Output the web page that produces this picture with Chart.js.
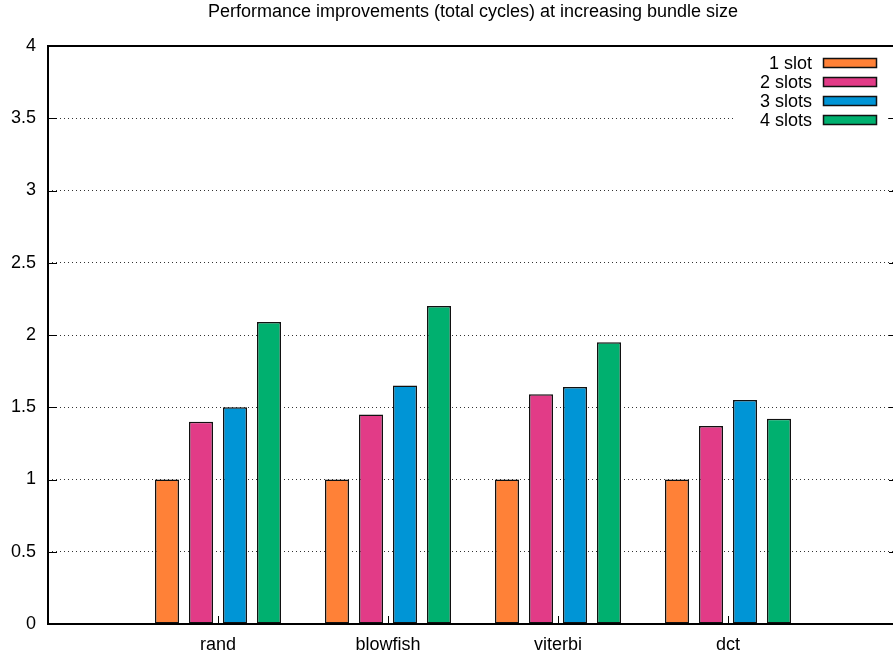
<!DOCTYPE html>
<html>
<head>
<meta charset="utf-8">
<script src="https://cdn.jsdelivr.net/npm/chart.js@4.4.1/dist/chart.umd.min.js"></script>
<style>
  html, body { margin: 0; padding: 0; background: #fff; overflow: hidden; }
  #wrap { width: 898px; height: 657px; }
</style>
</head>
<body>
<div id="wrap"><canvas id="c" width="898" height="657"></canvas></div>
<script>
// Benchmarks and speed-up (total cycles, relative to 1 slot) per bundle size
const benchmarks = ['rand', 'blowfish', 'viterbi', 'dct'];
const seriesNames = ['1 slot', '2 slots', '3 slots', '4 slots'];
const slot1 = [1.00, 1.00, 1.00, 1.00];
const slot2 = [1.40, 1.45, 1.59, 1.37];
const slot3 = [1.50, 1.65, 1.64, 1.55];
const slot4 = [2.09, 2.20, 1.95, 1.42];
const yTicks = [0, 0.5, 1, 1.5, 2, 2.5, 3, 3.5, 4];

const colors = ['#ff8137', '#e23b87', '#0095d6', '#00b06f'];
const FONT = "'Liberation Sans', Arial, sans-serif";

// one empty slot on each side so the x range runs from -1 to 4
const labels = ['', ...benchmarks, ''];
const pad = arr => [null, ...arr, null];

const datasets = [slot1, slot2, slot3, slot4].map((vals, i) => ({
  label: seriesNames[i],
  data: pad(vals),
  backgroundColor: colors[i],
  borderColor: '#111',
  borderWidth: 1.5,
  borderSkipped: false,
  categoryPercentage: 0.8,
  barPercentage: 0.706
}));

// border box, inward tick marks and the key inside the plot area
const framePlugin = {
  id: 'frame',
  afterDraw(chart) {
    const { ctx, chartArea: a, scales } = chart;
    ctx.save();

    // key with an opaque background
    ctx.fillStyle = '#fff';
    ctx.fillRect(735, 52, 152, 78);
    ctx.font = '18px ' + FONT;
    ctx.textAlign = 'right';
    ctx.textBaseline = 'middle';
    chart.data.datasets.forEach((ds, i) => {
      const cy = 63 + i * 19;
      ctx.fillStyle = '#000';
      ctx.fillText(ds.label, 812, cy + 1);
      ctx.fillStyle = ds.backgroundColor;
      ctx.fillRect(823.5, cy - 4.5, 53, 9);
      ctx.strokeStyle = '#111';
      ctx.lineWidth = 1.5;
      ctx.strokeRect(823.5, cy - 4.5, 53, 9);
    });

    ctx.strokeStyle = '#000';
    ctx.lineWidth = 1;
    ctx.beginPath();
    scales.y.ticks.forEach(t => {
      const y = Math.round(scales.y.getPixelForValue(t.value)) + 0.5;
      ctx.moveTo(a.left, y); ctx.lineTo(a.left + 9, y);
      ctx.moveTo(a.right, y); ctx.lineTo(a.right - 9, y);
    });
    labels.forEach((l, i) => {
      if (!l) return;
      const x = Math.round(scales.x.getPixelForValue(i)) + 0.5;
      ctx.moveTo(x, a.bottom); ctx.lineTo(x, a.bottom - 8);
    });
    ctx.stroke();

    ctx.lineWidth = 2;
    ctx.strokeRect(a.left, a.top, a.right - a.left, a.bottom - a.top);
    ctx.restore();
  }
};

new Chart(document.getElementById('c'), {
  type: 'bar',
  data: { labels, datasets },
  options: {
    responsive: false,
    animation: false,
    devicePixelRatio: 1,
    layout: { padding: 0 },
    plugins: {
      legend: { display: false },
      tooltip: { enabled: false },
      title: {
        display: true,
        text: 'Performance improvements (total cycles) at increasing bundle size',
        color: '#000',
        font: { family: FONT, size: 18, weight: 'normal' },
        fullSize: false,
        padding: { top: 1, bottom: 23.4 }
      }
    },
    scales: {
      x: {
        type: 'category',
        offset: false,
        grid: { display: false, drawTicks: false },
        border: { display: false },
        ticks: {
          autoSkip: false, maxRotation: 0, minRotation: 0,
          color: '#000', padding: 10,
          font: { family: FONT, size: 18 }
        },
        afterFit(s) {
          s.height = 33;
          s.paddingLeft = 0;
          s.paddingRight = 0;
        }
      },
      y: {
        min: 0, max: 4,
        afterBuildTicks(s) { s.ticks = yTicks.map(v => ({ value: v })); },
        grid: { color: '#333', lineWidth: 1, drawTicks: false },
        border: { display: false, dash: [1, 3] },
        ticks: {
          color: '#000', padding: 12,
          font: { family: FONT, size: 18 },
          callback: v => String(v)
        },
        afterFit(s) {
          s.width = 48;
          s.paddingTop = 0;
          s.paddingBottom = 0;
        }
      }
    }
  },
  plugins: [framePlugin]
});
</script>
</body>
</html>
